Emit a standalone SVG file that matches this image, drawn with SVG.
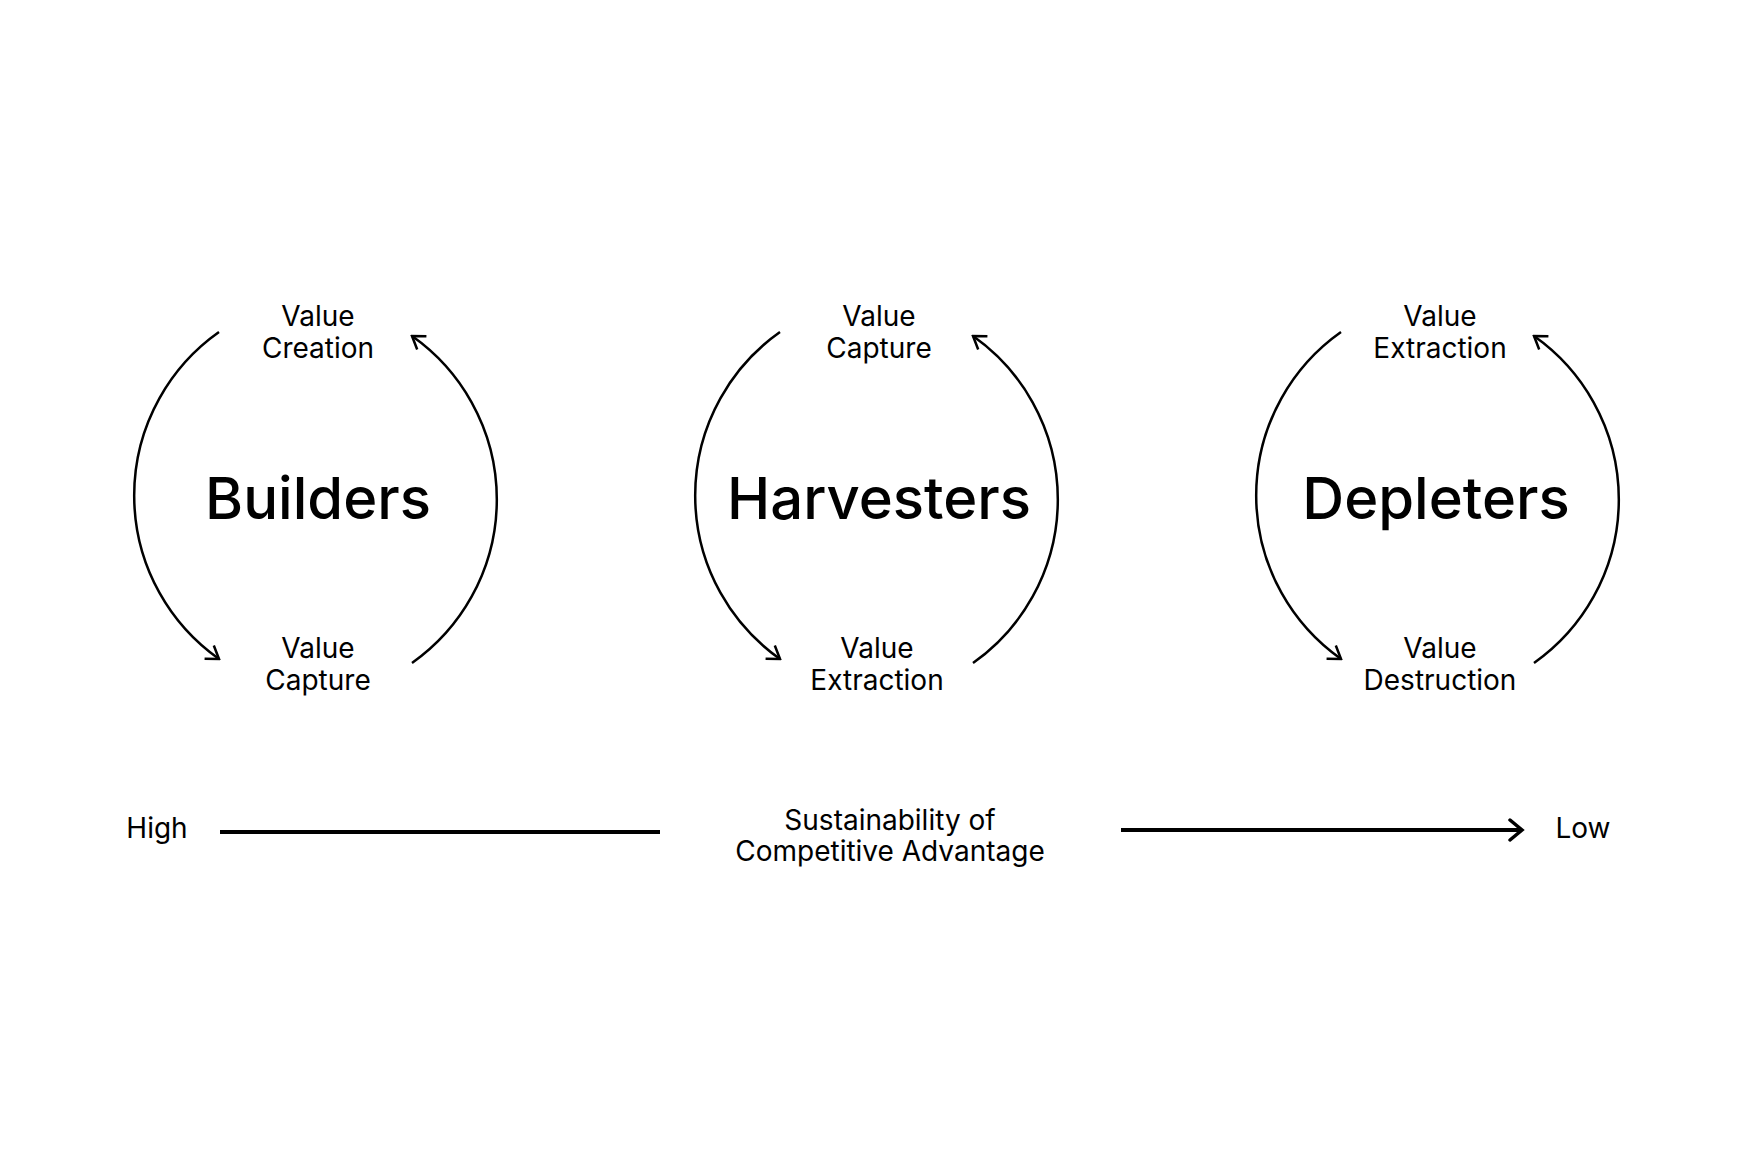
<svg xmlns="http://www.w3.org/2000/svg" width="1744" height="1163" viewBox="0 0 1744 1163">
<defs>
<marker id="ah" viewBox="0 0 20 20" refX="18" refY="10" markerWidth="20" markerHeight="20" markerUnits="userSpaceOnUse" orient="auto"><path d="M6,2 L18,10 L6,18" fill="none" stroke="#000" stroke-width="2.5"/></marker>
<marker id="ah2" viewBox="0 0 24 24" refX="20" refY="12" markerWidth="24" markerHeight="24" markerUnits="userSpaceOnUse" orient="auto"><path d="M8,2 L20,12 L8,22" fill="none" stroke="#000" stroke-width="3.5" stroke-linecap="round"/></marker>
</defs>
<style>
text{font-family:Inter,"Liberation Sans",sans-serif;fill:#000;text-anchor:middle}
.s{font-size:28px}
.b{font-size:58px;font-weight:500}
.arc{fill:none;stroke:#000;stroke-width:2.5}
.ax{stroke:#000;stroke-width:4;fill:none}
</style>
<rect width="1744" height="1163" fill="#fff"/>
<g id="builders">
<text class="s" x="318" y="326">Value</text><text class="s" x="318" y="358">Creation</text>
<text class="b" x="318" y="519">Builders</text>
<text class="s" x="318" y="658">Value</text><text class="s" x="318" y="690">Capture</text>
</g>
<g id="harvesters">
<text class="s" x="879" y="326">Value</text><text class="s" x="879" y="358">Capture</text>
<text class="b" x="879" y="519">Harvesters</text>
<text class="s" x="877" y="658">Value</text><text class="s" x="877" y="690">Extraction</text>
</g>
<g id="depleters">
<text class="s" x="1440" y="326">Value</text><text class="s" x="1440" y="358">Extraction</text>
<text class="b" x="1436" y="519">Depleters</text>
<text class="s" x="1440" y="658">Value</text><text class="s" x="1440" y="690">Destruction</text>
</g>
<g id="axis">
<text class="s" x="157" y="838">High</text>
<text class="s" x="1583" y="838">Low</text>
<text class="s" x="890" y="830">Sustainability of</text>
<text class="s" x="890" y="861">Competitive Advantage</text>
</g>
<g id="connectors">
<path class="arc" d="M219,332 A200,200 0 0 0 219,659" marker-end="url(#ah)"/>
<path class="arc" d="M412,663 A200,200 0 0 0 412,336" marker-end="url(#ah)"/>
<path class="arc" d="M780,332 A200,200 0 0 0 780,659" marker-end="url(#ah)"/>
<path class="arc" d="M973,663 A200,200 0 0 0 973,336" marker-end="url(#ah)"/>
<path class="arc" d="M1341,332 A200,200 0 0 0 1341,659" marker-end="url(#ah)"/>
<path class="arc" d="M1534,663 A200,200 0 0 0 1534,336" marker-end="url(#ah)"/>
<line class="ax" x1="220" y1="832" x2="660" y2="832"/>
<line class="ax" x1="1121" y1="830" x2="1522" y2="830" marker-end="url(#ah2)"/>
</g>
</svg>
